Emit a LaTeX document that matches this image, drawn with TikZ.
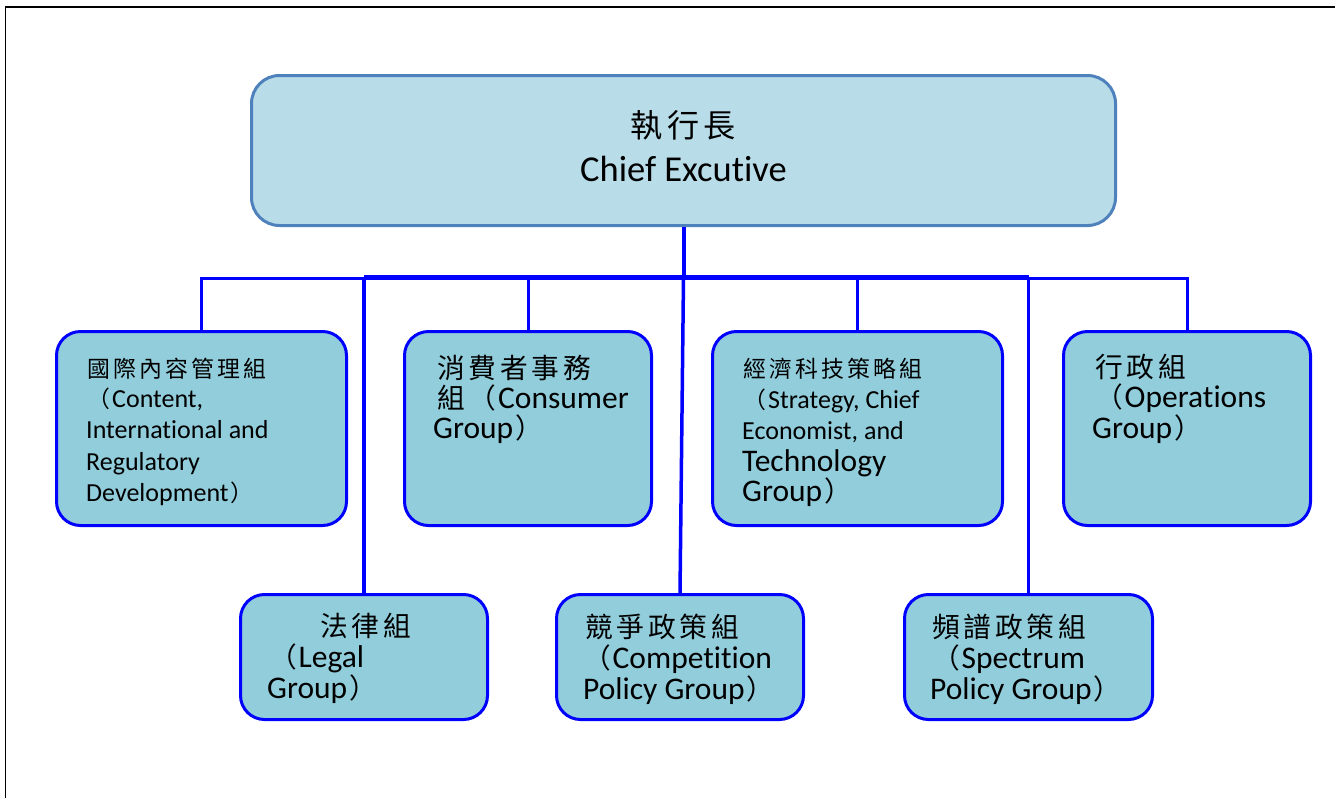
\documentclass[tikz,border=0pt]{standalone}
\usepackage{fontspec}
\setmainfont{Carlito}[RawFeature={-liga;-clig;-calt;-dlig}]
\newfontfamily\cjk{Noto Sans CJK TC}[Scale=0.88]
\definecolor{topfill}{HTML}{B8DDE8}
\definecolor{topline}{HTML}{4F81BD}
\definecolor{grpfill}{HTML}{92CDDC}
\definecolor{lineblue}{HTML}{0000FF}
\newcommand\cj[1]{\cjA#1\relax}
\def\cjA#1{\ifx\relax#1\else\makebox[1em][c]{\cjk#1}\expandafter\cjA\fi}
\tikzset{
  topbox/.style={draw=topline, fill=topfill, line width=3pt, rounded corners=28pt, minimum width=864pt, minimum height=150pt, inner sep=0pt},
  grp/.style={draw=lineblue, fill=grpfill, line width=3pt, rounded corners=24pt, inner sep=0pt},
  thinc/.style={draw=lineblue, line width=3pt},
  medc/.style={draw=lineblue, line width=3.5pt},
  thickc/.style={draw=lineblue, line width=4pt},
  busc/.style={draw=lineblue, line width=5pt},
  ts/.style={anchor=base west, inner sep=0pt, font=\fontsize{26}{31}\selectfont},
  tb/.style={anchor=base west, inner sep=0pt, font=\fontsize{31.5}{36}\selectfont},
  tc/.style={anchor=base, inner sep=0pt, font=\fontsize{36.5}{42}\selectfont},
}
\begin{document}
\begin{tikzpicture}[x=1pt,y=-1pt]
\useasboundingbox (0,0) rectangle (1335,798);
% frame
\coordinate (fa) at (5.5,798);
\coordinate (fb) at (5.5,7);
\coordinate (fc) at (1335,7);
\draw[line width=1.8pt, black] (fa) -- (fb) -- (fc);

% boxes
\node[topbox] (top) at (683.5,150.5) {};
\node[grp, minimum width=290pt, minimum height=194pt] (cont) at (201.5,428.5) {};
\node[grp, minimum width=247pt, minimum height=194pt] (cons) at (528,428.5) {};
\node[grp, minimum width=290pt, minimum height=194pt] (strat) at (857.5,428.5) {};
\node[grp, minimum width=247pt, minimum height=194pt] (oper) at (1187,428.5) {};
\node[grp, minimum width=247pt, minimum height=125pt] (legal) at (364,657) {};
\node[grp, minimum width=247pt, minimum height=125pt] (comp) at (680,657) {};
\node[grp, minimum width=248pt, minimum height=125pt] (spec) at (1028.5,657) {};

% connectors
\coordinate (j) at (683.5,277);
\coordinate (jt) at (683.5,278.5);
\draw[thickc] (top.south) -- (j);
\draw[busc] (legal.north |- j) -- (spec.north |- j);
\draw[medc] (legal.north |- j) -- (legal.north);
\draw[medc] (spec.north |- j) -- (spec.north);
\draw[medc] (j) -- (comp.north);
\draw[thinc] (cont.north) -- (cont.north |- jt) -- (legal.north |- jt);
\draw[thinc] (spec.north |- jt) -- (oper.north |- jt) -- (oper.north);
\draw[thinc] (cons.north |- jt) -- (cons.north);
\draw[thinc] (strat.north |- jt) -- (strat.north);

% top text
\node[tc] (t01) at (683.5,137) {\cj{執行長}};
\node[tc] (t02) at (683.5,181) {Chief Excutive};

% content group
\node[ts] (t03) at (86,377) {\cj{國際內容管理組}};
\node[ts] (t04) at (86,407) {\cj{（}Content,};
\node[ts] (t05) at (86,438) {International and};
\node[ts] (t06) at (86,470) {Regulatory};
\node[ts] (t07) at (86,501.5) {Development\cj{）}};

% consumer group
\node[tb] (t08) at (435,378) {\cj{消費者事務}};
\node[tb] (t09) at (435,408) {\cj{組（}Consumer};
\node[tb] (t10) at (433,438.5) {Group\cj{）}};

% strategy group
\node[ts] (t11) at (742,377) {\cj{經濟科技策略組}};
\node[ts] (t12) at (742,408) {\cj{（}Strategy, Chief};
\node[ts] (t13) at (742,439) {Economist, and};
\node[tb] (t14) at (742,471.5) {Technology};
\node[tb] (t15) at (742,501.5) {Group\cj{）}};

% operations group
\node[tb] (t16) at (1093,377) {\cj{行政組}};
\node[tb] (t17) at (1093,407) {\cj{（}Operations};
\node[tb] (t18) at (1092,438) {Group\cj{）}};

% legal group
\node[tb] (t19) at (318,636) {\cj{法律組}};
\node[tb] (t20) at (267,667) {\cj{（}Legal};
\node[tb] (t21) at (267,698) {Group\cj{）}};

% competition group
\node[tb] (t22) at (583,637) {\cj{競爭政策組}};
\node[tb] (t23) at (581,668) {\cj{（}Competition};
\node[tb] (t24) at (583,699) {Policy Group\cj{）}};

% spectrum group
\node[tb] (t25) at (930,637) {\cj{頻譜政策組}};
\node[tb] (t26) at (930,668) {\cj{（}Spectrum};
\node[tb] (t27) at (930,699) {Policy Group\cj{）}};
\end{tikzpicture}
\end{document}
